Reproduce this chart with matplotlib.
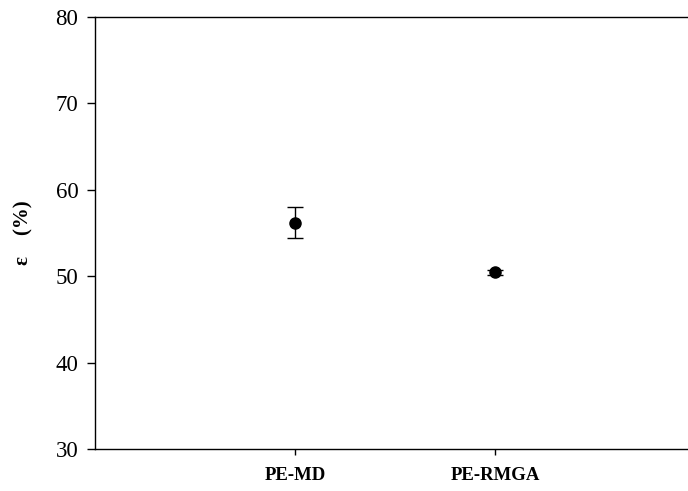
import matplotlib
matplotlib.use("Agg")
import matplotlib.pyplot as plt

# ---- data
samples = ["PE-MD", "PE-RMGA"]
porosity = [56.2, 50.45]
porosity_err = [1.8, 0.3]
yticks = [30, 40, 50, 60, 70, 80]

plt.rcParams['font.family'] = ['Liberation Serif', 'DejaVu Serif']

W, H = 688, 491
fig = plt.figure(figsize=(W / 100, H / 100), dpi=100)
# right edge of the axes falls just outside the picture, as in the reference
ax = fig.add_axes([95 / W, 42 / H, 600 / W, 432 / H])

xs = list(range(1, len(samples) + 1))
ax.errorbar(xs, porosity, yerr=porosity_err, fmt="o", color="black",
            markersize=8, capsize=5.5, elinewidth=1, capthick=1)

ax.set_xlim(0, 3)
ax.set_ylim(30, 80)
ax.set_yticks(yticks)
ax.set_yticklabels([str(v) for v in yticks], family="Liberation Serif", fontsize=16.5)
ax.set_xticks(xs)
ax.set_xticklabels(samples, family="Liberation Serif", fontweight="bold", fontsize=13.5)
ax.tick_params(axis="y", direction="out", length=6, width=1, pad=6)
ax.tick_params(axis="x", direction="out", length=4, width=1, pad=9)
ax.spines["right"].set_visible(False)
for s in ["left", "top", "bottom"]:
    ax.spines[s].set_linewidth(1)

ax.set_ylabel("ε    (%)", family="Liberation Serif", fontweight="bold", fontsize=15)
ax.yaxis.set_label_coords(-62 / 600, 0.5)

fig.savefig("out.png", dpi=100)
